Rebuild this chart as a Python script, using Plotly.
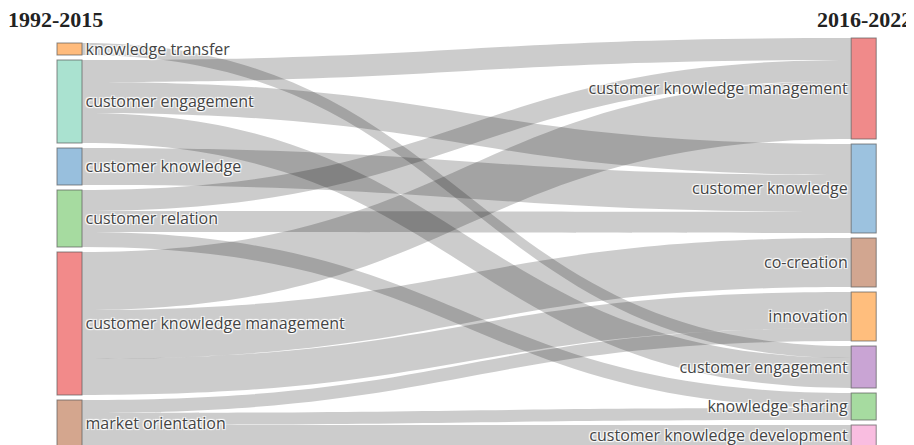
import plotly.graph_objects as go

# ---------------- data ----------------
left_labels = ["knowledge transfer", "customer engagement", "customer knowledge",
               "customer relation", "customer knowledge management", "market orientation"]
right_labels = ["customer knowledge management", "customer knowledge", "co-creation",
                "innovation", "customer engagement", "knowledge sharing",
                "customer knowledge development"]

# links: (left node, right node, value)
link_src = ["knowledge transfer", "customer engagement", "customer engagement", "customer engagement",
            "customer knowledge", "customer relation", "customer relation", "customer relation",
            "customer knowledge management", "customer knowledge management", "customer knowledge management",
            "market orientation", "market orientation", "market orientation"]
link_tgt = ["customer engagement", "customer knowledge management", "customer knowledge", "customer engagement",
            "customer knowledge", "customer knowledge management", "customer knowledge", "knowledge sharing",
            "customer knowledge management", "co-creation", "innovation",
            "innovation", "knowledge sharing", "customer knowledge development"]
link_val = [12, 22, 31, 30, 37, 21, 21, 15, 58, 49, 36, 13, 12, 21]

left_title = "1992-2015"
right_title = "2016-2022"

# ---------------- style ----------------
left_colors = ["#ffbb7c", "#aae2d0", "#98bfdd", "#a6dba0", "#f28a8a", "#d4a68e"]
right_colors = ["#f08a8a", "#9cc2df", "#d2a690", "#ffbe7d", "#c9a4d4", "#a6dba0", "#f9bde0"]

W, HF = 914, 437          # page body has an 8px margin
MT = 29
H = HF - MT
PAD = 5
THICK = 25
LEFT_X = 61.5
RIGHT_X = 855.7
LEFT_TOP = 35
RIGHT_TOP = 30

nL = len(left_labels)
labels = left_labels + right_labels
colors = left_colors + right_colors
src = [left_labels.index(s) for s in link_src]
tgt = [nL + right_labels.index(t) for t in link_tgt]

# node totals
tot = [0.0] * len(labels)
for s, t, v in zip(src, tgt, link_val):
    tot[s] += v
    tot[t] += v
left_tot = tot[:nL]
right_tot = tot[nL:]
ky = min((H - (len(c) - 1) * PAD) / sum(c) for c in (left_tot, right_tot))

def centers(col, top):
    out = []
    y = top
    for v in col:
        h = v * ky
        out.append(((y + h / 2) - MT) / H)
        y += h + PAD
    return out

node_y = centers(left_tot, LEFT_TOP) + centers(right_tot, RIGHT_TOP)
node_x = [LEFT_X / W] * nL + [RIGHT_X / W] * len(right_labels)

fig = go.Figure(go.Sankey(
    arrangement="fixed",
    node=dict(label=labels, color=colors, x=node_x, y=node_y,
              pad=PAD, thickness=THICK,
              line=dict(color="rgba(90,90,90,0.7)", width=1)),
    link=dict(source=src, target=tgt, value=link_val, color="rgba(0,0,0,0.2)"),
    textfont=dict(family="Open Sans", size=16, color="#444"),
))

ty = 1 - (12 - MT) / H
tfont = dict(family="Liberation Serif, Times New Roman, serif", size=22, color="#222")
fig.update_layout(
    width=W, height=HF,
    margin=dict(l=0, r=0, t=MT, b=0),
    paper_bgcolor="white",
    annotations=[
        dict(text="<b>%s</b>" % left_title, x=-2 / W, y=ty, xref="paper", yref="paper",
             xanchor="left", yanchor="middle", showarrow=False, font=tfont),
        dict(text="<b>%s</b>" % right_title, x=906 / W, y=ty, xref="paper", yref="paper",
             xanchor="right", yanchor="middle", showarrow=False, font=tfont),
    ],
)

fig.write_html("out.html")
